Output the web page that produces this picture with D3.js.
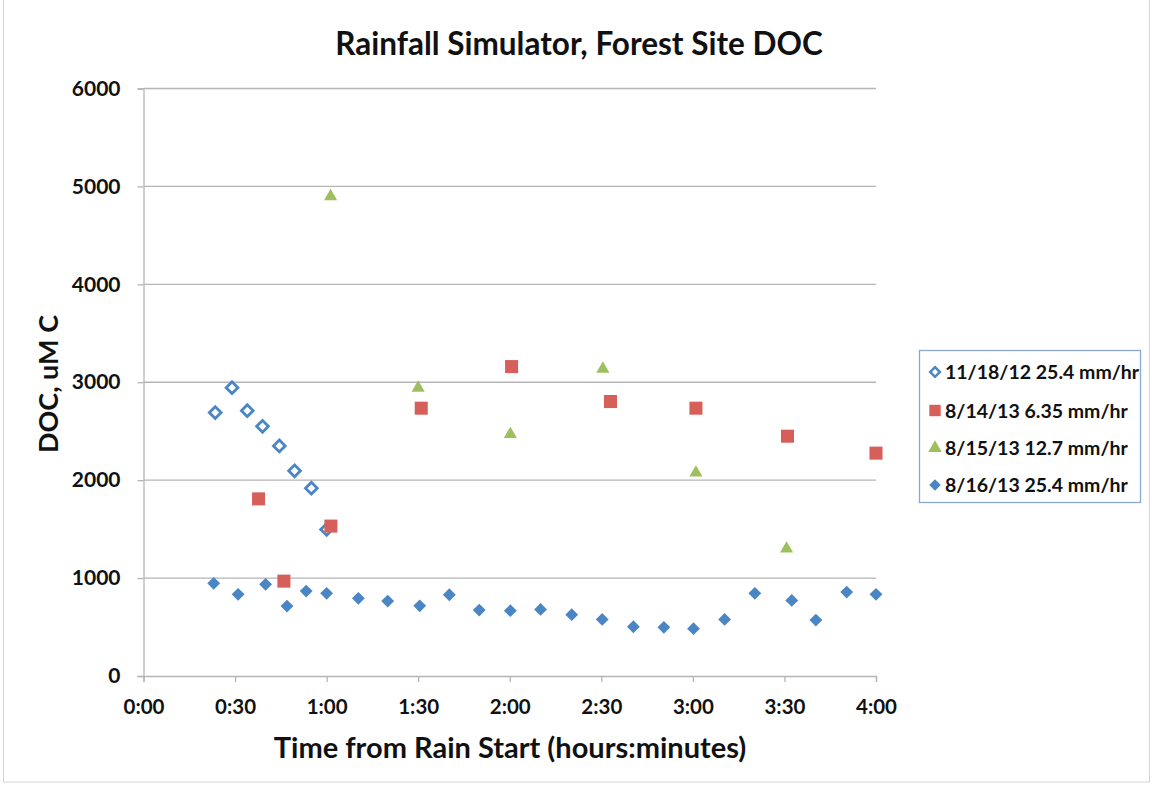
<!DOCTYPE html>
<html>
<head>
<meta charset="utf-8">
<script src="https://cdn.jsdelivr.net/npm/d3@7"></script>
<style>
  body { margin: 0; background: #fff; }
  svg text { font-family: Lato, "Open Sans", sans-serif; }
</style>
</head>
<body>
<svg id="chart" width="1154" height="785"></svg>
<script>
// ---- data (time in minutes from rain start, DOC in uM C) ----
const seriesNames = ["11/18/12 25.4 mm/hr", "8/14/13 6.35 mm/hr", "8/15/13 12.7 mm/hr", "8/16/13 25.4 mm/hr"];

const nov18Time = [23.5, 29, 34, 39, 44.5, 49.5, 55, 60];
const nov18DOC  = [2690, 2945, 2710, 2550, 2350, 2095, 1918, 1497];

const aug14Time = [37.7, 46, 61.4, 91, 120.6, 153, 181, 211, 240];
const aug14DOC  = [1809, 969, 1531, 2735, 3160, 2803, 2735, 2449, 2276];

const aug15Time = [61.3, 90, 120.2, 150.5, 181, 210.7];
const aug15DOC  = [4898, 2942, 2469, 3136, 2075, 1299];

const aug16Time = [23, 31, 40, 47, 53.3, 60, 70.4, 80, 90.5, 100.2, 110, 120.2, 130.1, 140.3, 150.3, 160.5, 170.5, 180.2, 190.4, 200.3, 212.4, 220.3, 230.4, 240];
const aug16DOC  = [946, 834, 936, 714, 867, 844, 793, 765, 717, 830, 673, 667, 680, 626, 578, 503, 497, 483, 578, 844, 772, 571, 857, 834];

const xTicks = [0, 30, 60, 90, 120, 150, 180, 210, 240];
const xTickLabels = ["0:00", "0:30", "1:00", "1:30", "2:00", "2:30", "3:00", "3:30", "4:00"];
const yTicks = [0, 1000, 2000, 3000, 4000, 5000, 6000];

// ---- layout ----
const svg = d3.select("#chart");
const L = 143.5, R = 876, T = 88.5, B = 676;
const x = d3.scaleLinear().domain([0, 240]).range([L, R]);
const y = d3.scaleLinear().domain([0, 6000]).range([B, T]);

const gridColor = "#b5b5b5";
const blue = "#4a86c6", red = "#d65f5a", green = "#9dbf5c";

// outer frame
svg.append("rect").attr("x", 3.5).attr("y", -2).attr("width", 1146).attr("height", 784)
  .attr("fill", "#fff").attr("stroke", "#d4d4d4").attr("stroke-width", 1);

// gridlines
svg.append("g").selectAll("line").data(yTicks.filter(d => d > 0)).join("line")
  .attr("x1", L).attr("x2", R).attr("y1", d => y(d)).attr("y2", d => y(d))
  .attr("stroke", gridColor).attr("stroke-width", 1.3);

// y axis
const yAxis = svg.append("g").attr("transform", `translate(${L},0)`)
  .call(d3.axisLeft(y).tickValues(yTicks).tickSize(6).tickPadding(17).tickFormat(d3.format("d")));
yAxis.select(".domain").attr("stroke", gridColor).attr("stroke-width", 1.3);
yAxis.selectAll(".tick line").attr("stroke", gridColor).attr("stroke-width", 1.3);
yAxis.selectAll("text").attr("font-size", 21).attr("font-weight", "bold").attr("fill", "#111")
  .attr("font-family", "Lato, sans-serif");

// x axis
const xAxis = svg.append("g").attr("transform", `translate(0,${B})`)
  .call(d3.axisBottom(x).tickValues(xTicks).tickSize(6).tickPadding(17)
    .tickFormat((d, i) => xTickLabels[i]));
xAxis.select(".domain").attr("stroke", gridColor).attr("stroke-width", 1.3);
xAxis.selectAll(".tick line").attr("stroke", gridColor).attr("stroke-width", 1.3);
xAxis.selectAll("text").attr("font-size", 20.5).attr("font-weight", "bold").attr("fill", "#111")
  .attr("font-family", "Lato, sans-serif");

// titles
svg.append("text").attr("x", 579).attr("y", 55).attr("text-anchor", "middle")
  .attr("font-size", 31.5).attr("font-weight", "bold").attr("fill", "#111")
  .text("Rainfall Simulator, Forest Site DOC");
svg.append("text").attr("x", 510).attr("y", 758).attr("text-anchor", "middle")
  .attr("font-size", 29).attr("font-weight", "bold").attr("fill", "#111")
  .text("Time from Rain Start (hours:minutes)");
svg.append("text").attr("transform", "translate(58,384) rotate(-90)").attr("text-anchor", "middle")
  .attr("font-size", 27).attr("font-weight", "bold").attr("fill", "#111")
  .text("DOC, uM C");

// markers
const diamond = d3.symbol().type(d3.symbolDiamond2).size(105);
const square = d3.symbol().type(d3.symbolSquare).size(170);
const triangle = d3.symbol().type(d3.symbolTriangle).size(75);

function plot(times, vals, sym, fill, stroke, sw) {
  svg.append("g").selectAll("path").data(times.map((t, i) => [t, vals[i]])).join("path")
    .attr("d", sym)
    .attr("transform", d => `translate(${x(d[0])},${y(d[1])})`)
    .attr("fill", fill).attr("stroke", stroke).attr("stroke-width", sw);
}
plot(aug16Time, aug16DOC, diamond, blue, "none", 0);
plot(nov18Time, nov18DOC, d3.symbol().type(d3.symbolDiamond2).size(88), "#fff", blue, 2.8);
plot(aug14Time, aug14DOC, square, red, "none", 0);
plot(aug15Time, aug15DOC, triangle, green, "none", 0);

// legend
const lg = svg.append("g");
lg.append("rect").attr("x", 919.5).attr("y", 350.5).attr("width", 221).attr("height", 152)
  .attr("fill", "#fff").attr("stroke", "#8aa8d4").attr("stroke-width", 1.3);
const legY = [372, 410.5, 448, 485];
const legSyms = [
  {sym: d3.symbol().type(d3.symbolDiamond2).size(60), fill: "#fff", stroke: blue, sw: 2.5},
  {sym: d3.symbol().type(d3.symbolSquare).size(130), fill: red, stroke: "none", sw: 0},
  {sym: d3.symbol().type(d3.symbolTriangle).size(80), fill: green, stroke: "none", sw: 0},
  {sym: d3.symbol().type(d3.symbolDiamond2).size(85), fill: blue, stroke: "none", sw: 0}
];
seriesNames.forEach((name, i) => {
  const s = legSyms[i];
  lg.append("path").attr("d", s.sym).attr("transform", `translate(935,${legY[i]})`)
    .attr("fill", s.fill).attr("stroke", s.stroke).attr("stroke-width", s.sw);
  lg.append("text").attr("x", 945).attr("y", legY[i] + 7)
    .attr("font-size", 19.5).attr("font-weight", "bold").attr("fill", "#111").text(name);
});
</script>
</body>
</html>
